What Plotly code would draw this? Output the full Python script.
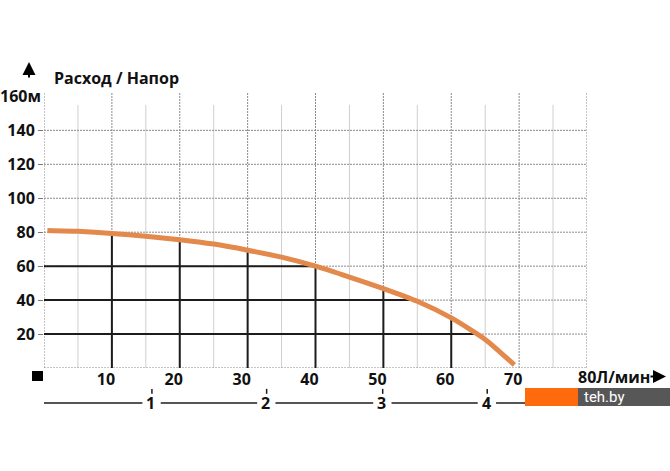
import numpy as np
import plotly.graph_objects as go

# ---- data ----
flow_lpm = [0.5, 5, 10, 15, 20, 25, 30, 35, 40, 45, 50, 55, 60, 65, 69.3]
head_m = [81, 80.5, 79.3, 77.6, 75.6, 73, 69.4, 65.3, 60, 53.6, 46.8, 39.3, 29.5, 16.8, 1.8]

x_ticks = [10, 20, 30, 40, 50, 60, 70]
x_tick_labels = ["10", "20", "30", "40", "50", "60", "70"]
y_ticks = [20, 40, 60, 80, 100, 120, 140]
y_tick_labels = ["20", "40", "60", "80", "100", "120", "140"]
y_top_value = 160
y_top_label = "160м"

m3h_labels = ["1", "2", "3", "4"]
m3h_pos_lpm = [15.9, 32.8, 49.9, 65.3]

ref_flows = [10, 20, 30, 40, 50, 60]
ref_heads = [20, 40, 60]

# ---- styles ----
FONT = "Open Sans"
DOT = "2px,1px"
GRID_DARK = "#8a8a8a"
GRID_LIGHT = "#cfcfcf"
CURVE = "#E3894C"
BLACK = "#1c1c1c"

fig = go.Figure()

# black reference lines from the axes up to / across to the curve
vx, vy = [], []
for f in ref_flows:
    top = float(np.interp(f, flow_lpm, head_m))
    vx += [f, f, None]
    vy += [0, top, None]
for h in ref_heads:
    right = float(np.interp(h, head_m[::-1], flow_lpm[::-1]))
    vx += [0, right, None]
    vy += [h, h, None]
fig.add_trace(go.Scatter(x=vx, y=vy, mode="lines", line=dict(color=BLACK, width=2),
                         hoverinfo="skip", showlegend=False))

# pump curve
fig.add_trace(go.Scatter(x=flow_lpm, y=head_m, mode="lines",
                         line=dict(color=CURVE, width=5, shape="spline", smoothing=0.6),
                         showlegend=False))

shapes = []
# minor vertical grid
for xv in range(5, 80, 10):
    shapes.append(dict(type="line", xref="x", yref="y", x0=xv, x1=xv, y0=0, y1=155,
                       line=dict(color=GRID_LIGHT, width=1), layer="below"))
# major vertical grid incl. left axis and right border
for xv in [0] + x_ticks + [80]:
    shapes.append(dict(type="line", xref="x", yref="y", x0=xv, x1=xv, y0=0, y1=162,
                       line=dict(color=GRID_DARK, width=1, dash=DOT), layer="below"))
# horizontal grid incl. bottom axis
for yv in [0] + y_ticks:
    shapes.append(dict(type="line", xref="x", yref="y", x0=0, x1=80, y0=yv, y1=yv,
                       line=dict(color=GRID_DARK, width=1, dash=DOT), layer="below"))

# black square at origin
shapes.append(dict(type="rect", xref="paper", yref="paper", xsizemode="pixel", ysizemode="pixel",
                   xanchor=0, yanchor=0, x0=-12, x1=-1, y0=-3, y1=-13,
                   fillcolor="black", line=dict(width=0)))

# secondary (m3/h) axis line, broken around labels
BOT_Y = -0.127
seg_start = [0] + [p + 1.3 for p in m3h_pos_lpm]
seg_end = [p - 1.4 for p in m3h_pos_lpm] + [80]
for a, b in zip(seg_start, seg_end):
    shapes.append(dict(type="line", xref="x", yref="paper", x0=a, x1=b, y0=BOT_Y, y1=BOT_Y,
                       line=dict(color=BLACK, width=1.5)))
for p in m3h_pos_lpm:
    shapes.append(dict(type="line", xref="x", yref="paper", x0=p, x1=p, y0=-0.094, y1=-0.076,
                       line=dict(color=BLACK, width=1.5)))

# watermark boxes
shapes.append(dict(type="rect", xref="paper", yref="paper", x0=0.8858, x1=0.9834,
                   y0=-0.1382, y1=-0.0727, fillcolor="#FF6A0D", line=dict(width=0)))
shapes.append(dict(type="rect", xref="paper", yref="paper", x0=0.9834, x1=1.16,
                   y0=-0.1382, y1=-0.0727, fillcolor="#575757", line=dict(width=0)))

annotations = []
bold = dict(family=FONT, size=16, color="#111111", weight="bold")
annotations.append(dict(text="Расход / Напор", xref="paper", yref="paper", x=0.0147, y=1.0545,
                        xanchor="left", yanchor="middle", showarrow=False, font=bold))
# top y label
annotations.append(dict(text=y_top_label, xref="paper", yref="y", x=0, xshift=-1, y=y_top_value,
                        xanchor="right", yanchor="middle", showarrow=False, font=bold))
# up arrow
annotations.append(dict(text="", xref="paper", yref="paper", x=-0.0276, y=1.1127,
                        ax=0, ay=17, showarrow=True, arrowhead=2, arrowsize=1.3,
                        arrowwidth=2, arrowcolor="black"))
# 80 label and right arrow
annotations.append(dict(text="80Л/мин", xref="x", yref="paper", x=80, xshift=-11, y=-0.031,
                        xanchor="left", yanchor="middle", showarrow=False, font=bold))
annotations.append(dict(text="", xref="paper", yref="paper", x=1.1455, y=-0.031,
                        ax=-17, ay=0, showarrow=True, arrowhead=2, arrowsize=1.3,
                        arrowwidth=2, arrowcolor="black"))
for lab, p in zip(m3h_labels, m3h_pos_lpm):
    annotations.append(dict(text=lab, xref="x", yref="paper", x=p, xshift=-1, y=BOT_Y,
                            yanchor="middle", showarrow=False, font=bold))
annotations.append(dict(text="teh.by", xref="paper", yref="paper", x=0.991, y=-0.105,
                        xanchor="left", yanchor="middle", showarrow=False,
                        font=dict(family="Roboto", size=15, color="white")))

fig.update_layout(
    width=670, height=471,
    margin=dict(l=44, r=83, t=93, b=103),
    paper_bgcolor="white", plot_bgcolor="white",
    shapes=shapes, annotations=annotations,
    xaxis=dict(range=[0, 80], tickvals=x_ticks, ticktext=x_tick_labels, showgrid=False,
               zeroline=False, showline=False, ticks="", ticklabelshift=-6,
               tickfont=bold, fixedrange=True, automargin=False),
    yaxis=dict(range=[0, 162], tickvals=y_ticks, ticktext=y_tick_labels, showgrid=False,
               zeroline=False, showline=False, ticks="outside", ticklen=5, tickwidth=1,
               tickcolor="#777777", tickfont=bold, fixedrange=True, automargin=False),
)

fig.write_html("out.html", config={"displayModeBar": False},
               post_script="document.body.style.margin='0';")
